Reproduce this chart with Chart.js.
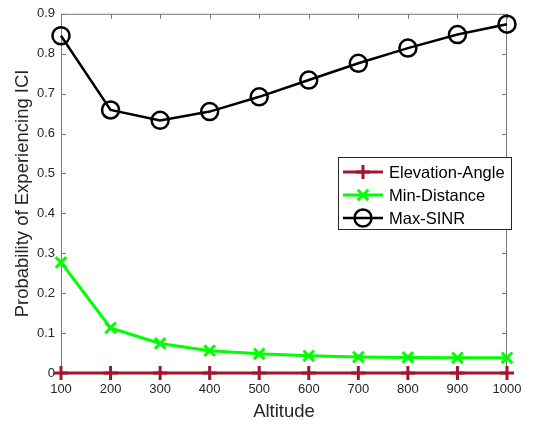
<!DOCTYPE html>
<html>
<head>
<meta charset="utf-8">
<script src="https://cdn.jsdelivr.net/npm/chart.js@4.4.1/dist/chart.umd.min.js"></script>
<style>
  html, body { margin: 0; padding: 0; background: #fff; }
  #wrap { width: 538px; height: 426px; }
</style>
</head>
<body>
<div id="wrap"><canvas id="ici"></canvas></div>
<script>
// ICI probability vs. UAV altitude for three association schemes
var altitudes = [100, 200, 300, 400, 500, 600, 700, 800, 900, 1000];
var elevationAngle = [0, 0, 0, 0, 0, 0, 0, 0, 0, 0];
var minDistance = [0.277, 0.113, 0.074, 0.056, 0.048, 0.043, 0.040, 0.039, 0.038, 0.038];
var maxSinr = [0.845, 0.659, 0.633, 0.655, 0.692, 0.734, 0.776, 0.814, 0.848, 0.874];
var xTicks = [100, 200, 300, 400, 500, 600, 700, 800, 900, 1000];
var yTicks = [0, 0.1, 0.2, 0.3, 0.4, 0.5, 0.6, 0.7, 0.8, 0.9];

var FONT = "'Liberation Sans', Arial, Helvetica, sans-serif";
var AXIS_COLOR = "#262626";

function pts(ys) {
  return altitudes.map(function (x, i) { return { x: x, y: ys[i] }; });
}

// axes box with inward ticks on all four sides
var boxPlugin = {
  id: 'box',
  beforeDatasetsDraw: function (chart) {
    var ctx = chart.ctx, a = chart.chartArea;
    var xs = chart.scales.x, ys = chart.scales.y;
    var len = 5;
    ctx.save();
    ctx.strokeStyle = "#7a7a7a";
    ctx.lineWidth = 1;
    ctx.beginPath();
    ctx.rect(a.left + 0.5, a.top + 0.5, a.right - a.left - 1, a.bottom - a.top - 1);
    xTicks.forEach(function (v) {
      var px = Math.round(xs.getPixelForValue(v)) + 0.5;
      ctx.moveTo(px, a.bottom); ctx.lineTo(px, a.bottom - len);
      ctx.moveTo(px, a.top); ctx.lineTo(px, a.top + len);
    });
    yTicks.forEach(function (v) {
      var py = Math.round(ys.getPixelForValue(v)) + 0.5;
      ctx.moveTo(a.left, py); ctx.lineTo(a.left + len, py);
      ctx.moveTo(a.right, py); ctx.lineTo(a.right - len, py);
    });
    ctx.stroke();
    ctx.restore();
  }
};

// boxed legend inside the plot, right side
var legendPlugin = {
  id: 'boxLegend',
  afterDraw: function (chart) {
    var ctx = chart.ctx;
    var x0 = 338, y0 = 157, w = 173, h = 72;
    var rows = [172, 195, 218];
    ctx.save();
    ctx.fillStyle = "#fff";
    ctx.fillRect(x0, y0, w, h);
    ctx.strokeStyle = AXIS_COLOR;
    ctx.lineWidth = 1;
    ctx.strokeRect(x0 + 0.5, y0 + 0.5, w, h);
    chart.data.datasets.forEach(function (ds, i) {
      var y = rows[i];
      ctx.strokeStyle = ds.borderColor;
      ctx.lineWidth = ds.borderWidth;
      ctx.beginPath();
      ctx.moveTo(343, y); ctx.lineTo(383, y);
      ctx.stroke();
      ctx.fillStyle = 'rgba(0,0,0,0)';
      ctx.lineWidth = ds.pointBorderWidth;
      Chart.helpers.drawPoint(ctx, {
        pointStyle: ds.pointStyle, radius: ds.pointRadius, rotation: 0,
        borderWidth: ds.pointBorderWidth
      }, 363, y);
      ctx.fillStyle = "#000";
      ctx.font = "16.5px " + FONT;
      ctx.textBaseline = "middle";
      ctx.fillText(ds.label, 389, y + 1);
    });
    ctx.restore();
  }
};

new Chart(document.getElementById('ici'), {
  type: 'line',
  data: {
    datasets: [
      {
        label: 'Elevation-Angle',
        data: pts(elevationAngle),
        borderColor: '#A2142F',
        backgroundColor: '#A2142F',
        borderWidth: 3,
        pointStyle: 'cross',
        pointRadius: 7,
        pointBorderWidth: 3,
        pointBackgroundColor: 'transparent'
      },
      {
        label: 'Min-Distance',
        data: pts(minDistance),
        borderColor: '#00FF00',
        backgroundColor: '#00FF00',
        borderWidth: 3,
        pointStyle: 'crossRot',
        pointRadius: 7.5,
        pointBorderWidth: 3,
        pointBackgroundColor: 'transparent'
      },
      {
        label: 'Max-SINR',
        data: pts(maxSinr),
        borderColor: '#000000',
        backgroundColor: '#000000',
        borderWidth: 2.5,
        pointStyle: 'circle',
        pointRadius: 8.5,
        pointBorderWidth: 2.5,
        pointBackgroundColor: 'transparent'
      }
    ]
  },
  options: {
    responsive: true,
    maintainAspectRatio: false,
    animation: false,
    clip: false,
    layout: { padding: { top: 13, right: 31, left: 0, bottom: 0 } },
    plugins: {
      legend: { display: false },
      tooltip: { enabled: false }
    },
    scales: {
      x: {
        type: 'linear',
        min: 100,
        max: 1000,
        afterBuildTicks: function (s) { s.ticks = xTicks.map(function (v) { return { value: v }; }); },
        afterFit: function (s) { s.height = 53; },
        grid: { display: false, drawTicks: false },
        border: { display: false },
        ticks: {
          padding: 9, color: AXIS_COLOR, font: { family: FONT, size: 13 }, maxRotation: 0,
          callback: function (v) { return String(v); }
        },
        title: {
          display: true, text: 'Altitude', color: AXIS_COLOR,
          font: { family: FONT, size: 18.5 }, padding: { top: 0, bottom: 3 }
        }
      },
      y: {
        min: 0,
        max: 0.9,
        afterBuildTicks: function (s) { s.ticks = yTicks.map(function (v) { return { value: v }; }); },
        afterFit: function (s) { s.width = 61; },
        grid: { display: false, drawTicks: false },
        border: { display: false },
        ticks: {
          padding: 6, color: AXIS_COLOR, font: { family: FONT, size: 13 },
          callback: function (v) { return String(Math.round(v * 10) / 10); }
        },
        title: {
          display: true, text: 'Probability of Experiencing ICI', color: AXIS_COLOR,
          font: { family: FONT, size: 18.5 }, padding: { top: 12, bottom: 0 }
        }
      }
    }
  },
  plugins: [boxPlugin, legendPlugin]
});
</script>
</body>
</html>
